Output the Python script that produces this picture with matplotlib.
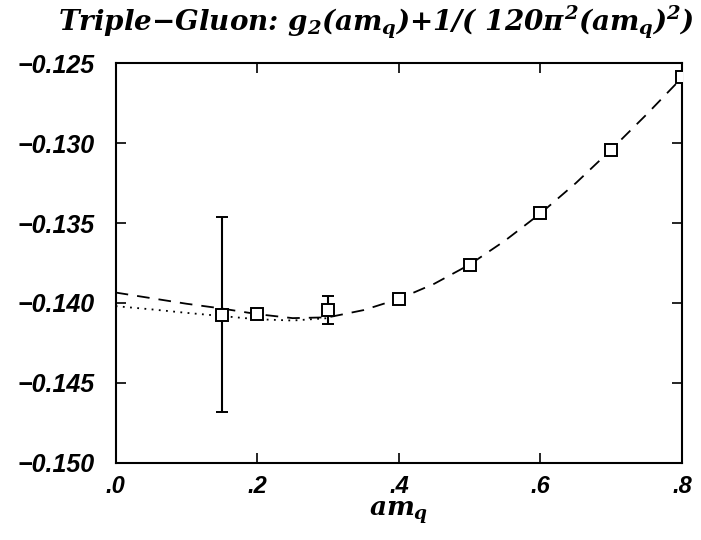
import matplotlib
matplotlib.use("Agg")
import matplotlib.pyplot as plt

# data points (open squares)
am_q = [0.15, 0.20, 0.30, 0.40, 0.50, 0.60, 0.70, 0.80]
g2 = [-0.14075, -0.14070, -0.14044, -0.13975, -0.13763, -0.13439, -0.13044, -0.12589]
g2_err = [0.0061, 0.0, 0.00085, 0.0, 0.0, 0.0, 0.0, 0.0]

# dashed fit curve
fit_x = [0.0, 0.05, 0.10, 0.15, 0.20, 0.25, 0.30, 0.35, 0.40, 0.45, 0.50,
         0.55, 0.60, 0.65, 0.70, 0.75, 0.80]
fit_y = [-0.13935, -0.13970, -0.14005, -0.14035, -0.14070, -0.14095, -0.14090,
         -0.14045, -0.13975, -0.13880, -0.13760, -0.13610, -0.13440, -0.13250,
         -0.13040, -0.12820, -0.12590]

# dotted curve at small am_q
dot_x = [0.0, 0.05, 0.10, 0.15, 0.20, 0.25, 0.30]
dot_y = [-0.14020, -0.14040, -0.14062, -0.14082, -0.14102, -0.14110, -0.14095]

xticks = [0.0, 0.2, 0.4, 0.6, 0.8]
xticklabels = [".0", ".2", ".4", ".6", ".8"]
yticks = [-0.150, -0.145, -0.140, -0.135, -0.130, -0.125]
yticklabels = ["\u22120.150", "\u22120.145", "\u22120.140", "\u22120.135", "\u22120.130", "\u22120.125"]

plt.rcParams['mathtext.fontset'] = 'custom'
plt.rcParams['mathtext.rm'] = 'DejaVu Serif:bold:italic'
plt.rcParams['mathtext.it'] = 'DejaVu Serif:bold:italic'
plt.rcParams['mathtext.bf'] = 'DejaVu Serif:bold:italic'

fig = plt.figure(figsize=(7.01, 5.40), dpi=100)
ax = fig.add_axes([0.165, 0.143, 0.808, 0.740])

ax.plot(fit_x, fit_y, color='black', linestyle=(0, (7, 5)), linewidth=1.3)
ax.plot(dot_x, dot_y, color='black', linestyle=(0, (1, 3)), linewidth=1.3)
ax.errorbar(am_q, g2, yerr=g2_err, fmt='s', color='black', mfc='white', mec='black',
            markersize=8.5, mew=1.4, capsize=4.5, elinewidth=1.5, capthick=1.5, zorder=3)

ax.set_xlim(0.0, 0.8)
ax.set_ylim(-0.150, -0.125)
ax.set_xticks(xticks)
ax.set_xticklabels(xticklabels)
ax.set_yticks(yticks)
ax.set_yticklabels(yticklabels)
ax.tick_params(direction='in', length=7, width=1.2, top=True, right=True)
ax.tick_params(axis='y', pad=15)
ax.tick_params(axis='x', pad=9)
for lab in ax.get_yticklabels():
    lab.set_family('Liberation Sans')
    lab.set_fontweight('bold')
    lab.set_fontstyle('italic')
    lab.set_fontsize(18)
for lab in ax.get_xticklabels():
    lab.set_family('Liberation Sans')
    lab.set_fontweight('bold')
    lab.set_fontstyle('italic')
    lab.set_fontsize(17)
for sp in ax.spines.values():
    sp.set_linewidth(1.5)

ax.set_xlabel(r"$am_q$", fontsize=19, labelpad=1)

fig.text(0.537, 0.958,
         r"Triple$-$Gluon: $g_2(am_q)$+1/( 120$\pi^2$($am_q$)$^2$)",
         ha='center', va='center', fontsize=20, family='DejaVu Serif',
         style='italic', fontweight='bold')

fig.savefig("out.png", dpi=100)
